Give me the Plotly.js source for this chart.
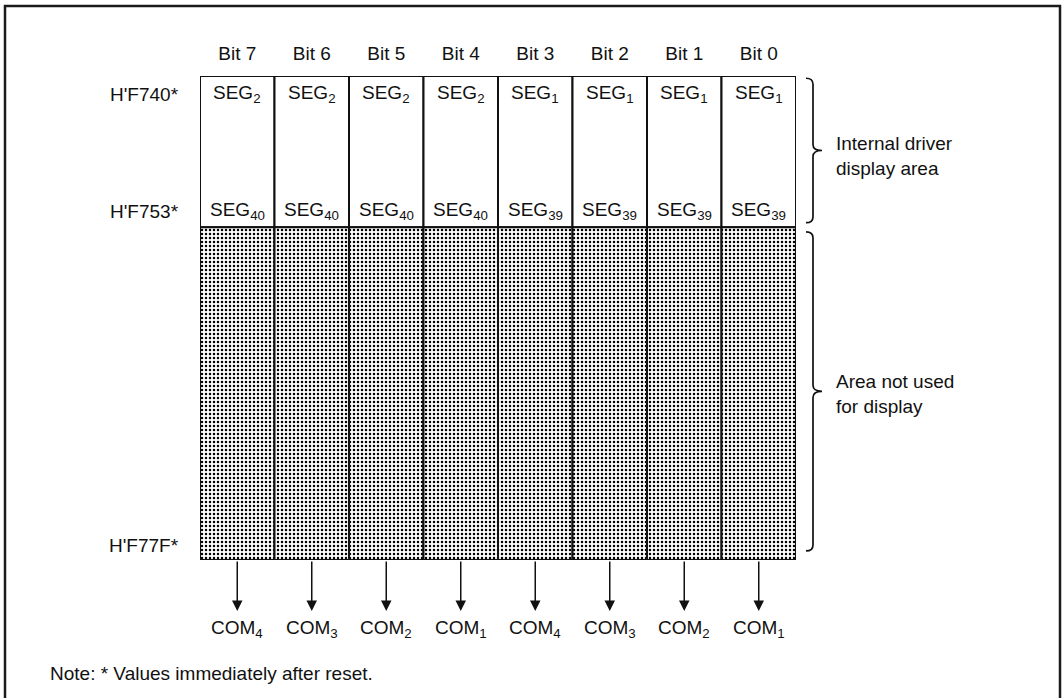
<!DOCTYPE html>
<html>
<head>
<meta charset="utf-8">
<script src="https://cdn.plot.ly/plotly-3.0.1.min.js"></script>
<style>
  html, body { margin: 0; padding: 0; background: #fff; }
  #chart { width: 1064px; height: 698px; }
</style>
</head>
<body>
<div id="chart"></div>
<script>
// ---- data ----
const bits = ["Bit 7", "Bit 6", "Bit 5", "Bit 4", "Bit 3", "Bit 2", "Bit 1", "Bit 0"];
const segFirst = [2, 2, 2, 2, 1, 1, 1, 1];
const segLast = [40, 40, 40, 40, 39, 39, 39, 39];
const comLines = [4, 3, 2, 1, 4, 3, 2, 1];
const addrFirst = 0x40;      // H'F740
const addrUsedLast = 0x53;   // H'F753
const addrLast = 0x7F;       // H'F77F
const addressLabels = ["H'F740*", "H'F753*", "H'F77F*"];
const regionLabels = ["Internal driver<br>display area", "Area not used<br>for display"];
const noteText = "Note: * Values immediately after reset.";

// ---- geometry ----
const W = 1064, H = 698;
const M = { l: 200, r: 268, t: 76, b: 138 };
const PW = W - M.l - M.r, PH = H - M.t - M.b;
const px2x = px => (px - M.l) / PW;
const py2y = py => (M.t + PH - py) / PH;

const FONT = "Liberation Sans, Arial, Helvetica, sans-serif";
const INK = "#111";
const FS = 19;

const usedRows = addrUsedLast - addrFirst + 1;
const unusedRows = addrLast - addrUsedLast;

const traces = [
  {
    type: "bar", x: bits, y: bits.map(() => usedRows), base: bits.map(() => addrFirst),
    marker: { color: "#fff", line: { color: INK, width: 2 } },
    hoverinfo: "skip", showlegend: false
  },
  {
    type: "bar", x: bits, y: bits.map(() => unusedRows), base: bits.map(() => addrUsedLast + 1),
    marker: {
      color: "#fff", line: { color: INK, width: 2 },
      pattern: { shape: ".", fgcolor: "#000", bgcolor: "#fff", size: 4, solidity: 0.3 }
    },
    hoverinfo: "skip", showlegend: false
  }
];

const ann = [];
const txt = (o) => Object.assign({ showarrow: false, font: { family: FONT, size: FS, color: INK } }, o);

// SEG labels, arrows and COM labels per bit column
bits.forEach((b, i) => {
  ann.push(txt({ x: b, xref: "x", y: addrFirst, yref: "y", yanchor: "middle", yshift: -18,
    text: "SEG<sub>" + segFirst[i] + "</sub>" }));
  ann.push(txt({ x: b, xref: "x", y: addrUsedLast + 1, yref: "y", yanchor: "middle", yshift: 16,
    text: "SEG<sub>" + segLast[i] + "</sub>" }));
  ann.push({ x: b, xref: "x", y: py2y(611), yref: "paper", ax: 0, ay: -51, axref: "pixel", ayref: "pixel",
    text: "", showarrow: true, arrowhead: 2, arrowsize: 1.4, arrowwidth: 1.5, arrowcolor: INK, standoff: 0 });
  ann.push(txt({ x: b, xref: "x", y: py2y(629), yref: "paper", yanchor: "middle",
    text: "COM<sub>" + comLines[i] + "</sub>" }));
});

// address labels
ann.push(txt({ x: px2x(181), xref: "paper", xanchor: "right", y: addrFirst, yref: "y", yanchor: "middle", yshift: -18, text: addressLabels[0] }));
ann.push(txt({ x: px2x(181), xref: "paper", xanchor: "right", y: addrUsedLast + 1, yref: "y", yanchor: "middle", yshift: 16, text: addressLabels[1] }));
ann.push(txt({ x: px2x(181), xref: "paper", xanchor: "right", y: addrLast + 1, yref: "y", yanchor: "middle", yshift: 15, text: addressLabels[2] }));

// region labels
ann.push(txt({ x: px2x(834), xref: "paper", xanchor: "left", align: "left", y: (addrFirst + addrUsedLast + 1) / 2, yref: "y", yanchor: "middle", yshift: -4, text: regionLabels[0] }));
ann.push(txt({ x: px2x(834), xref: "paper", xanchor: "left", align: "left", y: (addrUsedLast + 1 + addrLast + 1) / 2, yref: "y", yanchor: "middle", text: regionLabels[1] }));

// note
ann.push(txt({ x: px2x(48), xref: "paper", xanchor: "left", y: py2y(673), yref: "paper", yanchor: "middle", text: noteText }));

// braces
function brace(y0, y1) {
  const xa = px2x(806), xb = px2x(813), xc = px2x(822);
  const r = 0.8, ym = (y0 + y1) / 2;
  return {
    type: "path", xref: "paper", yref: "y",
    path: `M ${xa},${y0} Q ${xb},${y0} ${xb},${y0 + r} L ${xb},${ym - r} Q ${xb},${ym} ${xc},${ym} ` +
          `Q ${xb},${ym} ${xb},${ym + r} L ${xb},${y1 - r} Q ${xb},${y1} ${xa},${y1}`,
    line: { color: INK, width: 1.7 }
  };
}

const shapes = [
  brace(addrFirst + 0.3, addrUsedLast + 1 - 0.6),
  brace(addrUsedLast + 1 + 0.6, addrLast + 1 - 1.2),
  { type: "rect", xref: "paper", yref: "paper",
    x0: px2x(5), x1: px2x(1060), y0: py2y(6), y1: py2y(710),
    line: { color: "#1a1a1a", width: 2.5 }, fillcolor: "rgba(0,0,0,0)" }
];

const layout = {
  width: W, height: H,
  margin: M,
  paper_bgcolor: "#fff", plot_bgcolor: "#fff",
  barmode: "overlay", bargap: 0,
  showlegend: false,
  font: { family: FONT, size: FS, color: INK },
  xaxis: {
    type: "category", categoryorder: "array", categoryarray: bits,
    range: [-0.5, 7.5], side: "top", showgrid: false, zeroline: false, showline: false,
    ticks: "outside", ticklen: 7, tickcolor: "rgba(0,0,0,0)",
    tickfont: { family: FONT, size: FS, color: INK }, fixedrange: true
  },
  yaxis: {
    range: [addrLast + 1, addrFirst], showgrid: false, zeroline: false, showline: false,
    showticklabels: false, ticks: "", fixedrange: true
  },
  annotations: ann,
  shapes: shapes
};

Plotly.newPlot("chart", traces, layout, { staticPlot: true, displayModeBar: false });
</script>
</body>
</html>
